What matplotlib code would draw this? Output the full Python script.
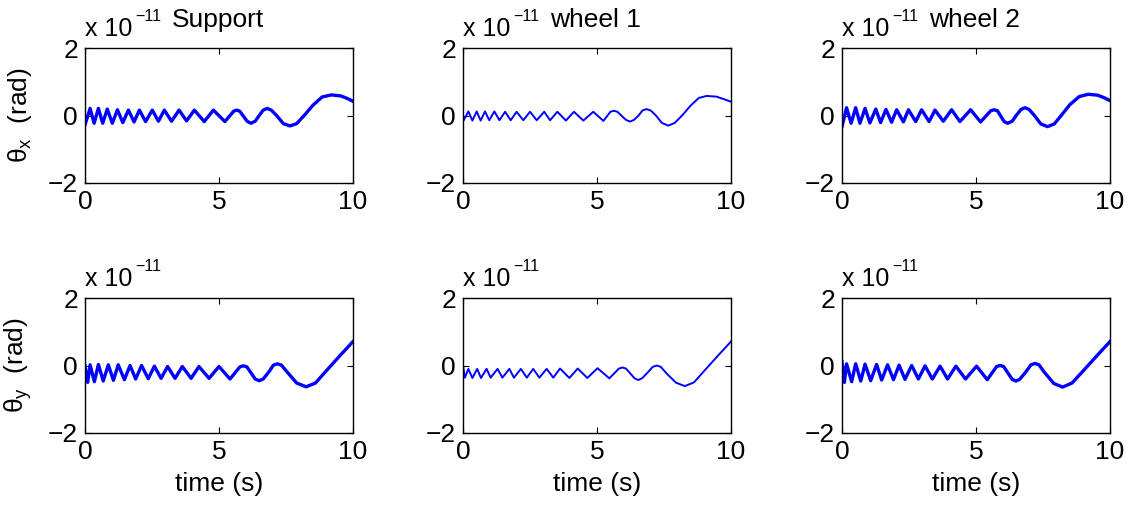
import numpy as np
import matplotlib.pyplot as plt

plt.rcParams['font.family'] = ['Liberation Sans', 'DejaVu Sans']
plt.rcParams['mathtext.fontset'] = 'custom'
plt.rcParams['mathtext.rm'] = 'Liberation Sans'
plt.rcParams['mathtext.it'] = 'Liberation Sans:italic'

titles = ['Support', 'wheel 1', 'wheel 2']
ylabels = ['θ$_\\mathrm{x}$  (rad)', 'θ$_\\mathrm{y}$  (rad)']

# theta_x, values in units of 1e-11 rad
tx_support = [0, 0.19, 0.34, 0.50, 0.66, 0.83, 1.02, 1.21, 1.41, 1.62, 1.83, 2.03, 2.26, 2.51, 2.74, 2.96,
              3.23, 3.51, 3.79, 4.08, 4.45, 4.79, 5.22, 5.55, 5.66, 5.77, 6.05, 6.19, 6.35, 6.5, 6.65, 6.8,
              6.95, 7.15, 7.4, 7.65, 7.9, 8.2, 8.5, 8.85, 9.2, 9.55, 9.8, 10]
vx_support = [-0.28, 0.21, -0.23, 0.21, -0.23, 0.19, -0.23, 0.17, -0.21, 0.16, -0.19, 0.16, -0.18, 0.16, -0.17, 0.16,
              -0.17, 0.16, -0.16, 0.16, -0.18, 0.16, -0.18, 0.13, 0.16, 0.13, -0.17, -0.23, -0.17, 0.0, 0.16, 0.21,
              0.16, 0.0, -0.24, -0.31, -0.24, 0.02, 0.3, 0.55, 0.61, 0.58, 0.5, 0.42]

tx_wheel1 = [0, 0.20, 0.35, 0.51, 0.66, 0.82, 0.98, 1.17, 1.36, 1.57, 1.78, 2.00, 2.25, 2.50, 2.75, 3.03,
             3.25, 3.52, 3.84, 4.14, 4.49, 4.86, 5.24, 5.5, 5.63, 5.76, 6.08, 6.23, 6.38, 6.55, 6.7, 6.85,
             7.0, 7.2, 7.42, 7.66, 7.9, 8.2, 8.5, 8.8, 9.09, 9.45, 9.75, 10]
vx_wheel1 = [-0.18, 0.12, -0.15, 0.12, -0.15, 0.12, -0.14, 0.12, -0.14, 0.11, -0.14, 0.11, -0.14, 0.11, -0.14, 0.11,
             -0.14, 0.11, -0.15, 0.11, -0.15, 0.11, -0.16, 0.11, 0.14, 0.11, -0.13, -0.18, -0.13, 0.0, 0.15, 0.19,
             0.15, 0.0, -0.22, -0.3, -0.22, 0.02, 0.3, 0.52, 0.58, 0.56, 0.48, 0.41]

tx_wheel2 = [0, 0.07, 0.17, 0.34, 0.51, 0.67, 0.86, 1.04, 1.26, 1.44, 1.64, 1.85, 2.04, 2.29, 2.48, 2.75,
             2.97, 3.25, 3.47, 3.78, 4.09, 4.4, 4.8, 5.17, 5.55, 5.67, 5.8, 6.05, 6.18, 6.35, 6.5, 6.68, 6.83,
             6.98, 7.18, 7.42, 7.67, 7.92, 8.2, 8.5, 8.85, 9.19, 9.55, 9.8, 10]
vx_wheel2 = [-0.33, -0.1, 0.23, -0.23, 0.23, -0.23, 0.21, -0.22, 0.19, -0.21, 0.18, -0.2, 0.17, -0.19, 0.17, -0.18,
             0.17, -0.18, 0.16, -0.17, 0.17, -0.18, 0.17, -0.19, 0.14, 0.17, 0.14, -0.18, -0.23, -0.17, 0.0, 0.18, 0.23,
             0.18, 0.0, -0.25, -0.33, -0.25, 0.02, 0.32, 0.56, 0.63, 0.6, 0.52, 0.44]

# theta_y
ty_support = [0, 0.1, 0.19, 0.35, 0.5, 0.68, 0.87, 1.06, 1.24, 1.47, 1.68, 1.89, 2.11, 2.36, 2.59, 2.84,
              3.08, 3.36, 3.63, 3.96, 4.25, 4.63, 5.0, 5.41, 5.78, 5.91, 6.04, 6.35, 6.5, 6.65, 6.85, 7.03, 7.18,
              7.33, 7.55, 7.9, 8.25, 8.6, 9.0, 9.5, 10]
vy_support = [0.0, -0.5, 0.02, -0.48, 0.03, -0.46, 0.02, -0.44, 0.02, -0.42, 0.0, -0.4, 0.0, -0.39, -0.02, -0.38,
              -0.03, -0.38, -0.03, -0.38, -0.03, -0.38, -0.03, -0.4, -0.04, -0.01, -0.04, -0.4, -0.45, -0.4, -0.2, 0.01, 0.05,
              0.01, -0.2, -0.52, -0.63, -0.52, -0.16, 0.28, 0.71]

ty_wheel1 = [0, 0.07, 0.2, 0.35, 0.53, 0.67, 0.88, 1.03, 1.29, 1.47, 1.73, 1.9, 2.16, 2.38, 2.62, 2.85,
             3.12, 3.37, 3.62, 3.97, 4.28, 4.64, 5.02, 5.46, 5.82, 5.95, 6.08, 6.4, 6.54, 6.68, 6.9, 7.08, 7.23,
             7.38, 7.6, 7.95, 8.28, 8.62, 9.0, 9.5, 10]
vy_wheel1 = [0.0, -0.36, -0.1, -0.37, -0.1, -0.37, -0.1, -0.36, -0.1, -0.36, -0.1, -0.36, -0.1, -0.36, -0.1, -0.36,
             -0.1, -0.36, -0.09, -0.37, -0.09, -0.37, -0.08, -0.38, -0.09, -0.06, -0.09, -0.38, -0.43, -0.38, -0.2, -0.04, 0.0,
             -0.04, -0.24, -0.51, -0.61, -0.5, -0.16, 0.28, 0.71]

ty_wheel2 = [0, 0.09, 0.17, 0.36, 0.51, 0.7, 0.86, 1.07, 1.29, 1.48, 1.7, 1.92, 2.13, 2.35, 2.6, 2.85,
             3.1, 3.37, 3.66, 3.94, 4.25, 4.61, 5.02, 5.42, 5.77, 5.9, 6.03, 6.35, 6.49, 6.63, 6.85, 7.05, 7.2,
             7.35, 7.55, 7.9, 8.23, 8.58, 9.0, 9.5, 10]
vy_wheel2 = [0.11, -0.5, 0.05, -0.48, 0.05, -0.46, 0.04, -0.45, 0.03, -0.43, 0.02, -0.42, 0.01, -0.41, 0.0, -0.4,
             -0.01, -0.4, -0.02, -0.4, -0.02, -0.4, -0.02, -0.42, -0.03, 0.0, -0.03, -0.41, -0.46, -0.41, -0.2, 0.02, 0.06,
             0.02, -0.2, -0.53, -0.64, -0.52, -0.16, 0.28, 0.71]

curves = [[(tx_support, vx_support), (tx_wheel1, vx_wheel1), (tx_wheel2, vx_wheel2)],
          [(ty_support, vy_support), (ty_wheel1, vy_wheel1), (ty_wheel2, vy_wheel2)]]
widths = [2.4, 1.4, 2.4]

fig = plt.figure(figsize=(11.3, 5.08), dpi=100)
lefts = [85, 463, 842]
tops = [48, 298]
for r in range(2):
    for c in range(3):
        ax = fig.add_axes([lefts[c] / 1130, 1 - (tops[r] + 135) / 508, 268 / 1130, 135 / 508])
        t, v = curves[r][c]
        ax.plot(t, np.array(v) * 1e-11, color='#0000ff', lw=widths[c])
        ax.set_xlim(0, 10)
        ax.set_ylim(-2e-11, 2e-11)
        ax.set_xticks([0, 5, 10])
        ax.set_yticks([-2e-11, 0, 2e-11])
        ax.set_yticklabels(['\u22122', '0', '2'])
        ax.tick_params(direction='in', length=4, width=0.8, top=True, right=True,
                       labelsize=19, pad=5)
        for s in ax.spines.values():
            s.set_linewidth(1.0)
        # MATLAB-style exponent label
        ax.text(0, 1.089, 'x 10', transform=ax.transAxes,
                fontsize=18, ha='left', va='baseline')
        ax.text(0.187, 1.2, '\u221211', transform=ax.transAxes, fontsize=11.5,
                ha='left', va='baseline')
        if r == 0:
            ax.text(0.496, 1.156, titles[c], transform=ax.transAxes, fontsize=19,
                    ha='center', va='baseline')
        if r == 1:
            ax.set_xlabel('time (s)', fontsize=19, labelpad=6)
        if c == 0:
            ax.set_ylabel(ylabels[r], fontsize=19, labelpad=10)

plt.savefig('out.png', dpi=100)
